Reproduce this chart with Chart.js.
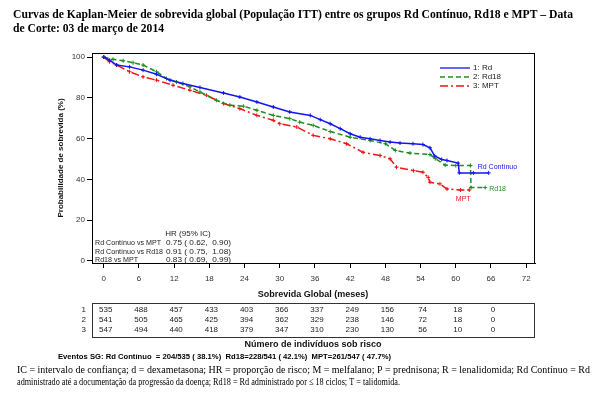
<!DOCTYPE html>
<html><head><meta charset="utf-8">
<script src="https://cdn.jsdelivr.net/npm/chart.js@4"></script>
<style>html,body{margin:0;padding:0;background:#fff;overflow:hidden}canvas{display:block}</style>
</head><body>
<canvas id="c" width="599" height="397"></canvas>
<script>
// ---- data ----
const titleLines = ['Curvas de Kaplan-Meier de sobrevida global (População ITT) entre os grupos Rd Contínuo, Rd18 e MPT – Data', 'de Corte: 03 de março de 2014'];
const seriesNames = ['1: Rd', '2: Rd18', '3: MPT'];
const endLabels = ['Rd Contínuo', 'Rd18', 'MPT'];
const rdMonths = [0,1,2.2,4.4,6.7,9,11.3,13.5,16.4,20.4,23.2,26.1,28.9,31.7,35.2,36.9,38.6,40.3,42,43.7,45.4,47.1,48.8,50.5,52.7,54.4,55.6,56.4,57.6,58.5,60.4,60.6,63,65.6];
const rdSurv   = [100,98.5,96.1,95.2,93.6,91.6,88.7,87,85.1,82.4,80.4,78,75.5,73.1,71.4,69.3,67.3,64.9,62.4,60.7,59.9,59.1,58.3,57.8,57.5,57.1,55.5,51.5,49.8,49.3,48,43.2,43.2,43.2];
const rd18Months = [0,1.6,3.3,5,6.7,9,10.7,12.4,14.7,16.4,19.2,21.5,23.8,26.1,28.9,31.7,33.4,35.7,38.6,42,45.4,48,49.7,52.2,55.6,56.5,58.2,60,62.5,62.6,65];
const rd18Surv   = [100,98.9,98.2,97.2,96.1,92.8,89.5,87.8,85.4,82.9,78.8,76.4,75.9,73.9,71.4,69.8,68.1,66.5,63.5,60.7,59.1,57.5,54.2,52.9,52.2,50.2,47,46.8,46.8,36,36];
const mptMonths = [0,1,2.2,4.4,6.7,9,11.8,14.7,17.5,20.4,23.2,26.1,28.9,30,32.9,35.7,38.6,41.4,44.2,47.1,48.8,49.9,52.8,54.4,55.3,55.6,57.3,58.5,60.8,62.3];
const mptSurv   = [100,97.7,96.1,92.8,90.3,88.7,86.2,83.7,81.3,77.2,74.7,71.4,69,67.3,65.7,61.6,59.9,57.5,53.3,51.7,50.1,46,44.3,43.5,41,38.6,37.8,35.3,34.8,34.8];
const xTicks = [0,6,12,18,24,30,36,42,48,54,60,66,72];
const yTicks = [0,20,40,60,80,100];
const riskTimes = [0,6,12,18,24,30,36,42,48,54,60,66];
const riskRd   = [535,488,457,433,403,366,337,249,156,74,18,0];
const riskRd18 = [541,505,465,425,394,362,329,238,146,72,18,0];
const riskMPT  = [547,494,440,418,379,347,310,230,130,56,10,0];
const riskRowLabels = ['1','2','3'];
const hrTitle = 'HR (95% IC)';
const hrLabels = ['Rd Contínuo vs MPT', 'Rd Contínuo vs Rd18', 'Rd18 vs MPT'];
const hrValues = ['0.75 ( 0.62,  0.90)', '0.91 ( 0.75,  1.08)', '0.83 ( 0.69,  0.99)'];
const xTitle = 'Sobrevida Global (meses)';
const yTitle = 'Probabilidade de sobrevida (%)';
const riskTitle = 'Número de indivíduos sob risco';
const eventsText = 'Eventos SG: Rd Contínuo  = 204/535 ( 38.1%)  Rd18=228/541 ( 42.1%)  MPT=261/547 ( 47.7%)';
const footLines = ['IC = intervalo de confiança; d = dexametasona; HR = proporção de risco; M = melfalano; P = prednisona; R = lenalidomida; Rd Contínuo = Rd', 'administrado até a documentação da progressão da doença; Rd18 = Rd administrado por ≤ 18 ciclos; T = talidomida.'];

const colors = ['#1414f0', '#1f8c1f', '#f01414'];
const dashes = [[], [5, 3], [8, 3, 2, 3]];
const sans = '"Liberation Sans", Arial, sans-serif';
const serif = '"Liberation Serif", "Times New Roman", serif';

function pts(xs, ys) { return xs.map((x, i) => ({x: x, y: ys[i]})); }
const allSeries = [pts(rdMonths, rdSurv), pts(rd18Months, rd18Surv), pts(mptMonths, mptSurv)];

function fitText(ctx, text, x, y, width, font, align) {
  ctx.save();
  ctx.font = font;
  const w = ctx.measureText(text).width;
  const s = width / w;
  ctx.translate(x, y);
  ctx.scale(s, 1);
  ctx.textAlign = align || 'left';
  ctx.fillText(text, 0, 0);
  ctx.restore();
}
function scaledText(ctx, text, x, y, s, align) {
  ctx.save();
  ctx.translate(x, y);
  ctx.scale(s, 1);
  ctx.textAlign = align || 'left';
  ctx.fillText(text, 0, 0);
  ctx.restore();
}

const decor = {
  id: 'decor',
  afterDraw(chart) {
    const ctx = chart.ctx, ca = chart.chartArea;
    const xs = chart.scales.x, ys = chart.scales.y;
    ctx.save();
    // box
    ctx.strokeStyle = '#000'; ctx.lineWidth = 1; ctx.setLineDash([]);
    ctx.strokeRect(Math.round(ca.left) + 0.5, Math.round(ca.top) + 0.5, Math.round(ca.right - ca.left) - 1, Math.round(ca.bottom - ca.top));
    // title
    ctx.fillStyle = '#000'; ctx.textBaseline = 'middle';
    fitText(ctx, titleLines[0], 13, 15, 560, 'bold 12px ' + serif);
    fitText(ctx, titleLines[1], 13, 28.5, 151, 'bold 12px ' + serif);
    // legend
    ctx.font = '8px ' + sans;
    seriesNames.forEach((n, i) => {
      const y = 68 + i * 9;
      ctx.strokeStyle = colors[i]; ctx.lineWidth = 1.3; ctx.setLineDash(dashes[i]);
      ctx.beginPath(); ctx.moveTo(440, y); ctx.lineTo(470, y); ctx.stroke();
      ctx.setLineDash([]);
      ctx.fillStyle = '#222'; ctx.textAlign = 'left';
      ctx.fillText(n, 473, y);
    });
    // end labels
    const offs = [[-11, -6, 'left'], [4, 1, 'left'], [-6, 9, 'center']];
    endLabels.forEach((t, i) => {
      const d = allSeries[i][allSeries[i].length - 1];
      ctx.fillStyle = colors[i];
      ctx.font = '8px ' + sans;
      scaledText(ctx, t, xs.getPixelForValue(d.x) + offs[i][0], ys.getPixelForValue(d.y) + offs[i][1], 0.88, offs[i][2]);
    });
    // HR block
    ctx.fillStyle = '#222'; ctx.font = '8px ' + sans;
    scaledText(ctx, hrTitle, 188, 234, 1, 'center');
    ctx.font = '8px ' + sans;
    const maxW = Math.max(...hrLabels.map(l => ctx.measureText(l).width));
    const sl = 68 / maxW;
    const maxV = Math.max(...hrValues.map(l => ctx.measureText(l).width));
    const sv = 65 / maxV;
    hrLabels.forEach((l, i) => {
      const y = 243 + i * 8.3;
      scaledText(ctx, l, 95, y, sl, 'left');
      scaledText(ctx, hrValues[i], 166, y, sv, 'left');
    });
    // axis titles
    ctx.fillStyle = '#111';
    ctx.font = 'bold 9px ' + sans; ctx.textAlign = 'center';
    ctx.fillText(xTitle, 313, 295);
    ctx.save(); ctx.translate(61, 158); ctx.rotate(-Math.PI / 2);
    ctx.font = 'bold 8px ' + sans; ctx.fillText(yTitle, 0, 0); ctx.restore();
    // risk table
    const top = 303, rowH = 10;
    ctx.strokeStyle = '#333'; ctx.lineWidth = 1;
    ctx.strokeRect(Math.round(ca.left) + 0.5, top + 0.5, Math.round(ca.right - ca.left) - 1, rowH * 3 + 4);
    ctx.font = '8px ' + sans; ctx.fillStyle = '#222';
    [riskRd, riskRd18, riskMPT].forEach((row, r) => {
      const y = top + 7 + r * rowH;
      ctx.textAlign = 'right'; ctx.fillText(riskRowLabels[r], 86, y);
      ctx.textAlign = 'center';
      row.forEach((v, k) => ctx.fillText(String(v), xs.getPixelForValue(riskTimes[k]) + 2, y));
    });
    ctx.fillStyle = '#111'; ctx.font = 'bold 9px ' + sans; ctx.textAlign = 'center';
    ctx.fillText(riskTitle, 313, 345);
    ctx.fillStyle = '#000';
    fitText(ctx, eventsText, 58, 357, 333, 'bold 7px ' + sans);
    fitText(ctx, footLines[0], 17, 370, 573, '11px ' + serif);
    fitText(ctx, footLines[1], 17, 382, 383, '11px ' + serif);
    ctx.restore();
  }
};

new Chart(document.getElementById('c'), {
  type: 'line',
  data: {
    datasets: allSeries.map((d, i) => ({
      label: seriesNames[i], data: d,
      borderColor: colors[i], backgroundColor: colors[i], borderWidth: 1.5,
      borderDash: dashes[i], tension: 0, fill: false,
      pointStyle: 'cross', pointRadius: 2, pointBorderWidth: 1, pointBorderColor: colors[i]
    }))
  },
  options: {
    responsive: false, animation: false, devicePixelRatio: 1,
    layout: {padding: {top: 53, right: 64, bottom: 104, left: 0}},
    plugins: {legend: {display: false}, tooltip: {enabled: false}},
    scales: {
      x: {
        type: 'linear', min: -2, max: 73.5,
        afterBuildTicks: s => { s.ticks = xTicks.map(v => ({value: v})); },
        afterFit: s => { s.height = 30; },
        ticks: {font: {size: 8, family: sans}, color: '#333', padding: 6, maxRotation: 0, autoSkip: false},
        grid: {drawOnChartArea: false, drawTicks: true, tickLength: 5, color: '#000'},
        border: {display: true, color: '#000'}
      },
      y: {
        type: 'linear', min: -1, max: 102,
        afterBuildTicks: s => { s.ticks = yTicks.map(v => ({value: v})); },
        afterFit: s => { s.width = 92; },
        ticks: {font: {size: 8, family: sans}, color: '#333', padding: 2, autoSkip: false},
        grid: {drawOnChartArea: false, drawTicks: true, tickLength: 5, color: '#000'},
        border: {display: true, color: '#000'}
      }
    }
  },
  plugins: [decor]
});
</script>
</body></html>
